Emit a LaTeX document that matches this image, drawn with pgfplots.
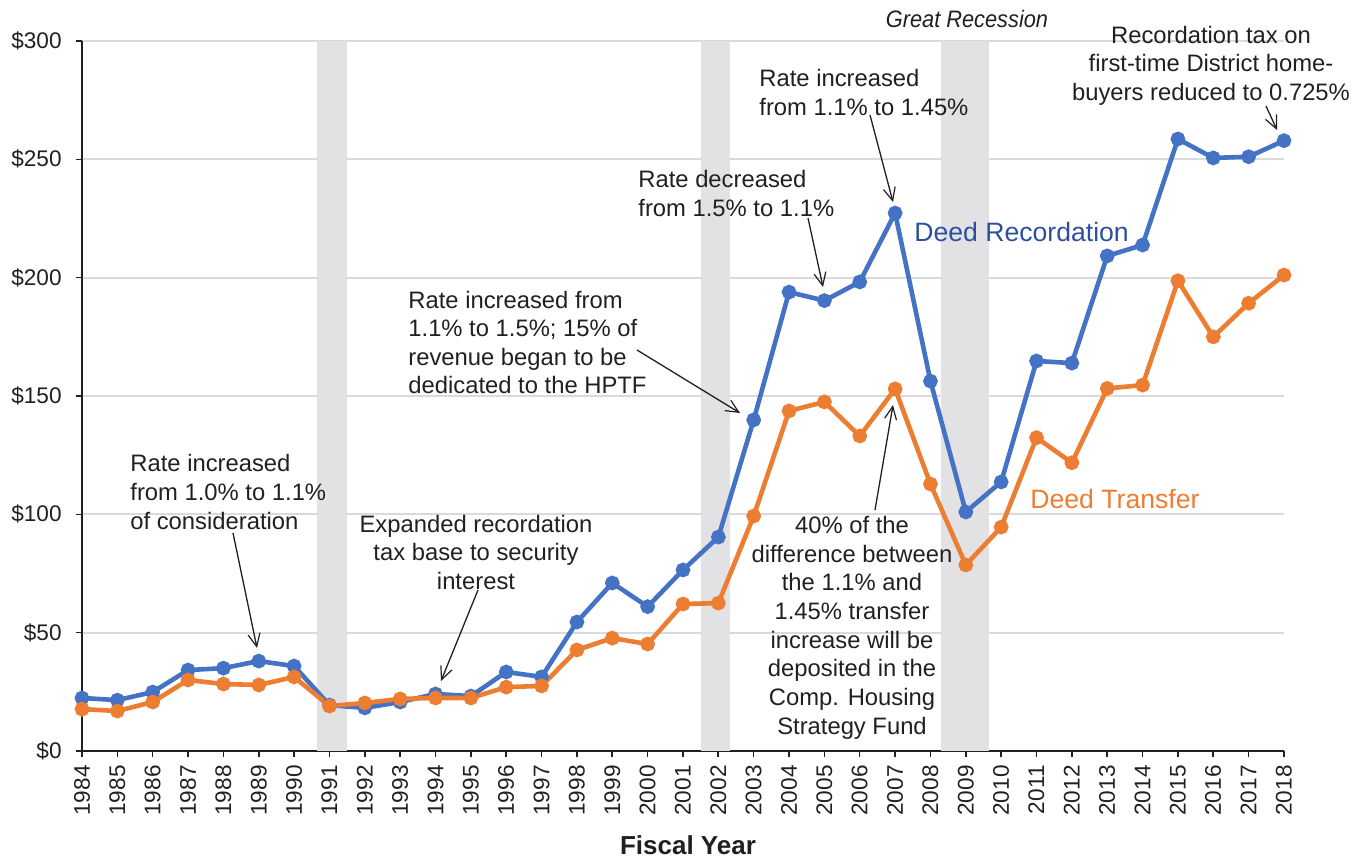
\documentclass[border=0pt]{standalone}
\usepackage{fontspec}
\setmainfont{Liberation Sans}
\usepackage{pgfplots}
\pgfplotsset{compat=1.18}
\usetikzlibrary{arrows.meta}
\definecolor{blueS}{HTML}{4472C4}
\definecolor{orangeS}{HTML}{ED7D31}
\definecolor{bandgray}{HTML}{E2E2E5}
\definecolor{gridgray}{HTML}{DADADA}
\definecolor{txt}{HTML}{231F20}
\definecolor{recblue}{HTML}{2E4FA0}
\newcommand\af{\fontsize{11.9}{14.5}\selectfont}
\begin{document}
\begin{tikzpicture}
\useasboundingbox (0,0) rectangle (683pt,-428.5pt);
\begin{axis}[
  at={(41pt,-375.5pt)}, anchor=south west, scale only axis,
  width=601pt, height=355pt,
  xmin=1984, xmax=2018, ymin=0, ymax=300,
  axis x line*=bottom, axis y line*=left,
  axis line style={line width=0.9pt, txt},
  xtick={1984,...,2018}, ytick={0,50,...,300},
  yticklabels={\$0,\$50,\$100,\$150,\$200,\$250,\$300},
  /pgf/number format/.cd, 1000 sep={}, assume math mode=true, /pgfplots/.cd,
  tick align=outside, major tick length=3pt,
  tick style={line width=0.8pt, txt},
  ticklabel style={font=\fontsize{11.3}{13}\selectfont, text=txt},
  yticklabel style={inner sep=0pt, xshift=-7pt, anchor=east},
  xticklabel style={inner sep=0pt, yshift=-4pt, rotate=90, anchor=east},
  ymajorgrids, grid style={line width=0.9pt, gridgray},
  clip=false,
]
\fill[bandgray] (axis cs:1990.65,0) rectangle (axis cs:1991.5,300);
\fill[bandgray] (axis cs:2001.5,0) rectangle (axis cs:2002.33,300);
\fill[bandgray] (axis cs:2008.3,0) rectangle (axis cs:2009.65,300);
\addplot[blueS, line width=2.3pt, mark=*, mark size=2.5pt, mark options={fill=blueS, draw=blueS}] coordinates {
(1984,22.4)(1985,21.5)(1986,24.9)(1987,34.2)(1988,35.0)(1989,38.0)(1990,35.9)
(1991,19.4)(1992,18.2)(1993,20.7)(1994,24.1)(1995,23.2)(1996,33.4)(1997,31.3)
(1998,54.5)(1999,71.0)(2000,61.0)(2001,76.5)(2002,90.4)(2003,139.9)(2004,193.9)
(2005,190.3)(2006,198.2)(2007,227.3)(2008,156.3)(2009,101.0)(2010,113.7)
(2011,164.8)(2012,163.9)(2013,209.2)(2014,213.8)(2015,258.6)(2016,250.6)
(2017,251.1)(2018,257.9)};
\addplot[orangeS, line width=2.3pt, mark=*, mark size=2.5pt, mark options={fill=orangeS, draw=orangeS}] coordinates {
(1984,17.7)(1985,16.9)(1986,20.7)(1987,30.0)(1988,28.3)(1989,27.9)(1990,31.3)
(1991,19.0)(1992,20.3)(1993,22.0)(1994,22.4)(1995,22.4)(1996,27.0)(1997,27.5)
(1998,42.7)(1999,47.7)(2000,45.2)(2001,62.1)(2002,62.5)(2003,99.3)(2004,143.7)
(2005,147.5)(2006,133.1)(2007,153.0)(2008,112.8)(2009,78.6)(2010,94.6)
(2011,132.4)(2012,121.8)(2013,153.2)(2014,154.6)(2015,198.7)(2016,175.0)
(2017,189.2)(2018,201.1)};
\end{axis}
\begin{scope}[x=0.5pt,y=-0.5pt, every node/.style={inner sep=0pt, text=txt, font=\af}]
% annotation 1
\node[anchor=base west] at (130,471) {Rate increased};
\node[anchor=base west] at (130,500) {from 1.0\% to 1.1\%};
\node[anchor=base west] at (130,529) {of consideration};
% annotation 2
\node[anchor=base] at (476,532) {Expanded recordation};
\node[anchor=base] at (476,560) {tax base to security};
\node[anchor=base] at (476,589) {interest};
% annotation 3
\node[anchor=base west] at (408,308) {Rate increased from};
\node[anchor=base west] at (408,336) {1.1\% to 1.5\%; 15\% of};
\node[anchor=base west] at (408,365) {revenue began to be};
\node[anchor=base west] at (408,393) {dedicated to the HPTF};
% annotation 4
\node[anchor=base west] at (638,187) {Rate decreased};
\node[anchor=base west] at (638,216) {from 1.5\% to 1.1\%};
% annotation 5
\node[anchor=base west] at (759,86) {Rate increased};
\node[anchor=base west] at (759,115) {from 1.1\% to 1.45\%};
% great recession
\node[anchor=base, font=\af\itshape, xscale=0.915] at (967,27) {Great Recession};
% annotation 7
\node[anchor=base] at (1211,43) {Recordation tax on};
\node[anchor=base] at (1211,71) {first-time District home-};
\node[anchor=base] at (1211,100) {buyers reduced to 0.725\%};
% annotation 8
\node[anchor=base] at (852,533) {40\% of the};
\node[anchor=base] at (852,562) {difference between};
\node[anchor=base] at (852,590) {the 1.1\% and};
\node[anchor=base] at (852,619) {1.45\% transfer};
\node[anchor=base] at (852,648) {increase will be};
\node[anchor=base] at (852,676) {deposited in the};
\node[anchor=base] at (852,705) {Comp. Housing};
\node[anchor=base] at (852,734) {Strategy Fund};
% series labels
\node[anchor=base west, text=recblue, font=\fontsize{13.3}{16}\selectfont] at (914,241) {Deed Recordation};
\node[anchor=base west, text=orangeS, font=\fontsize{13.3}{16}\selectfont] at (1030,508) {Deed Transfer};
% axis title
\node[anchor=base, font=\fontsize{13}{15}\selectfont\bfseries] at (688,854) {Fiscal Year};
% arrows
\begin{scope}[-{Straight Barb[length=6.5pt,width=6pt,line width=0.6pt]}, line width=0.65pt, txt]
\draw (233,533) -- (257,648);
\draw (478,590) -- (441,681);
\draw (637,350) -- (740,413);
\draw (808,218) -- (823,287);
\draw (870,115) -- (893,202);
\draw (1266,106) -- (1277,130);
\draw (875,510) -- (893,405);
\end{scope}
\end{scope}
\end{tikzpicture}
\end{document}
